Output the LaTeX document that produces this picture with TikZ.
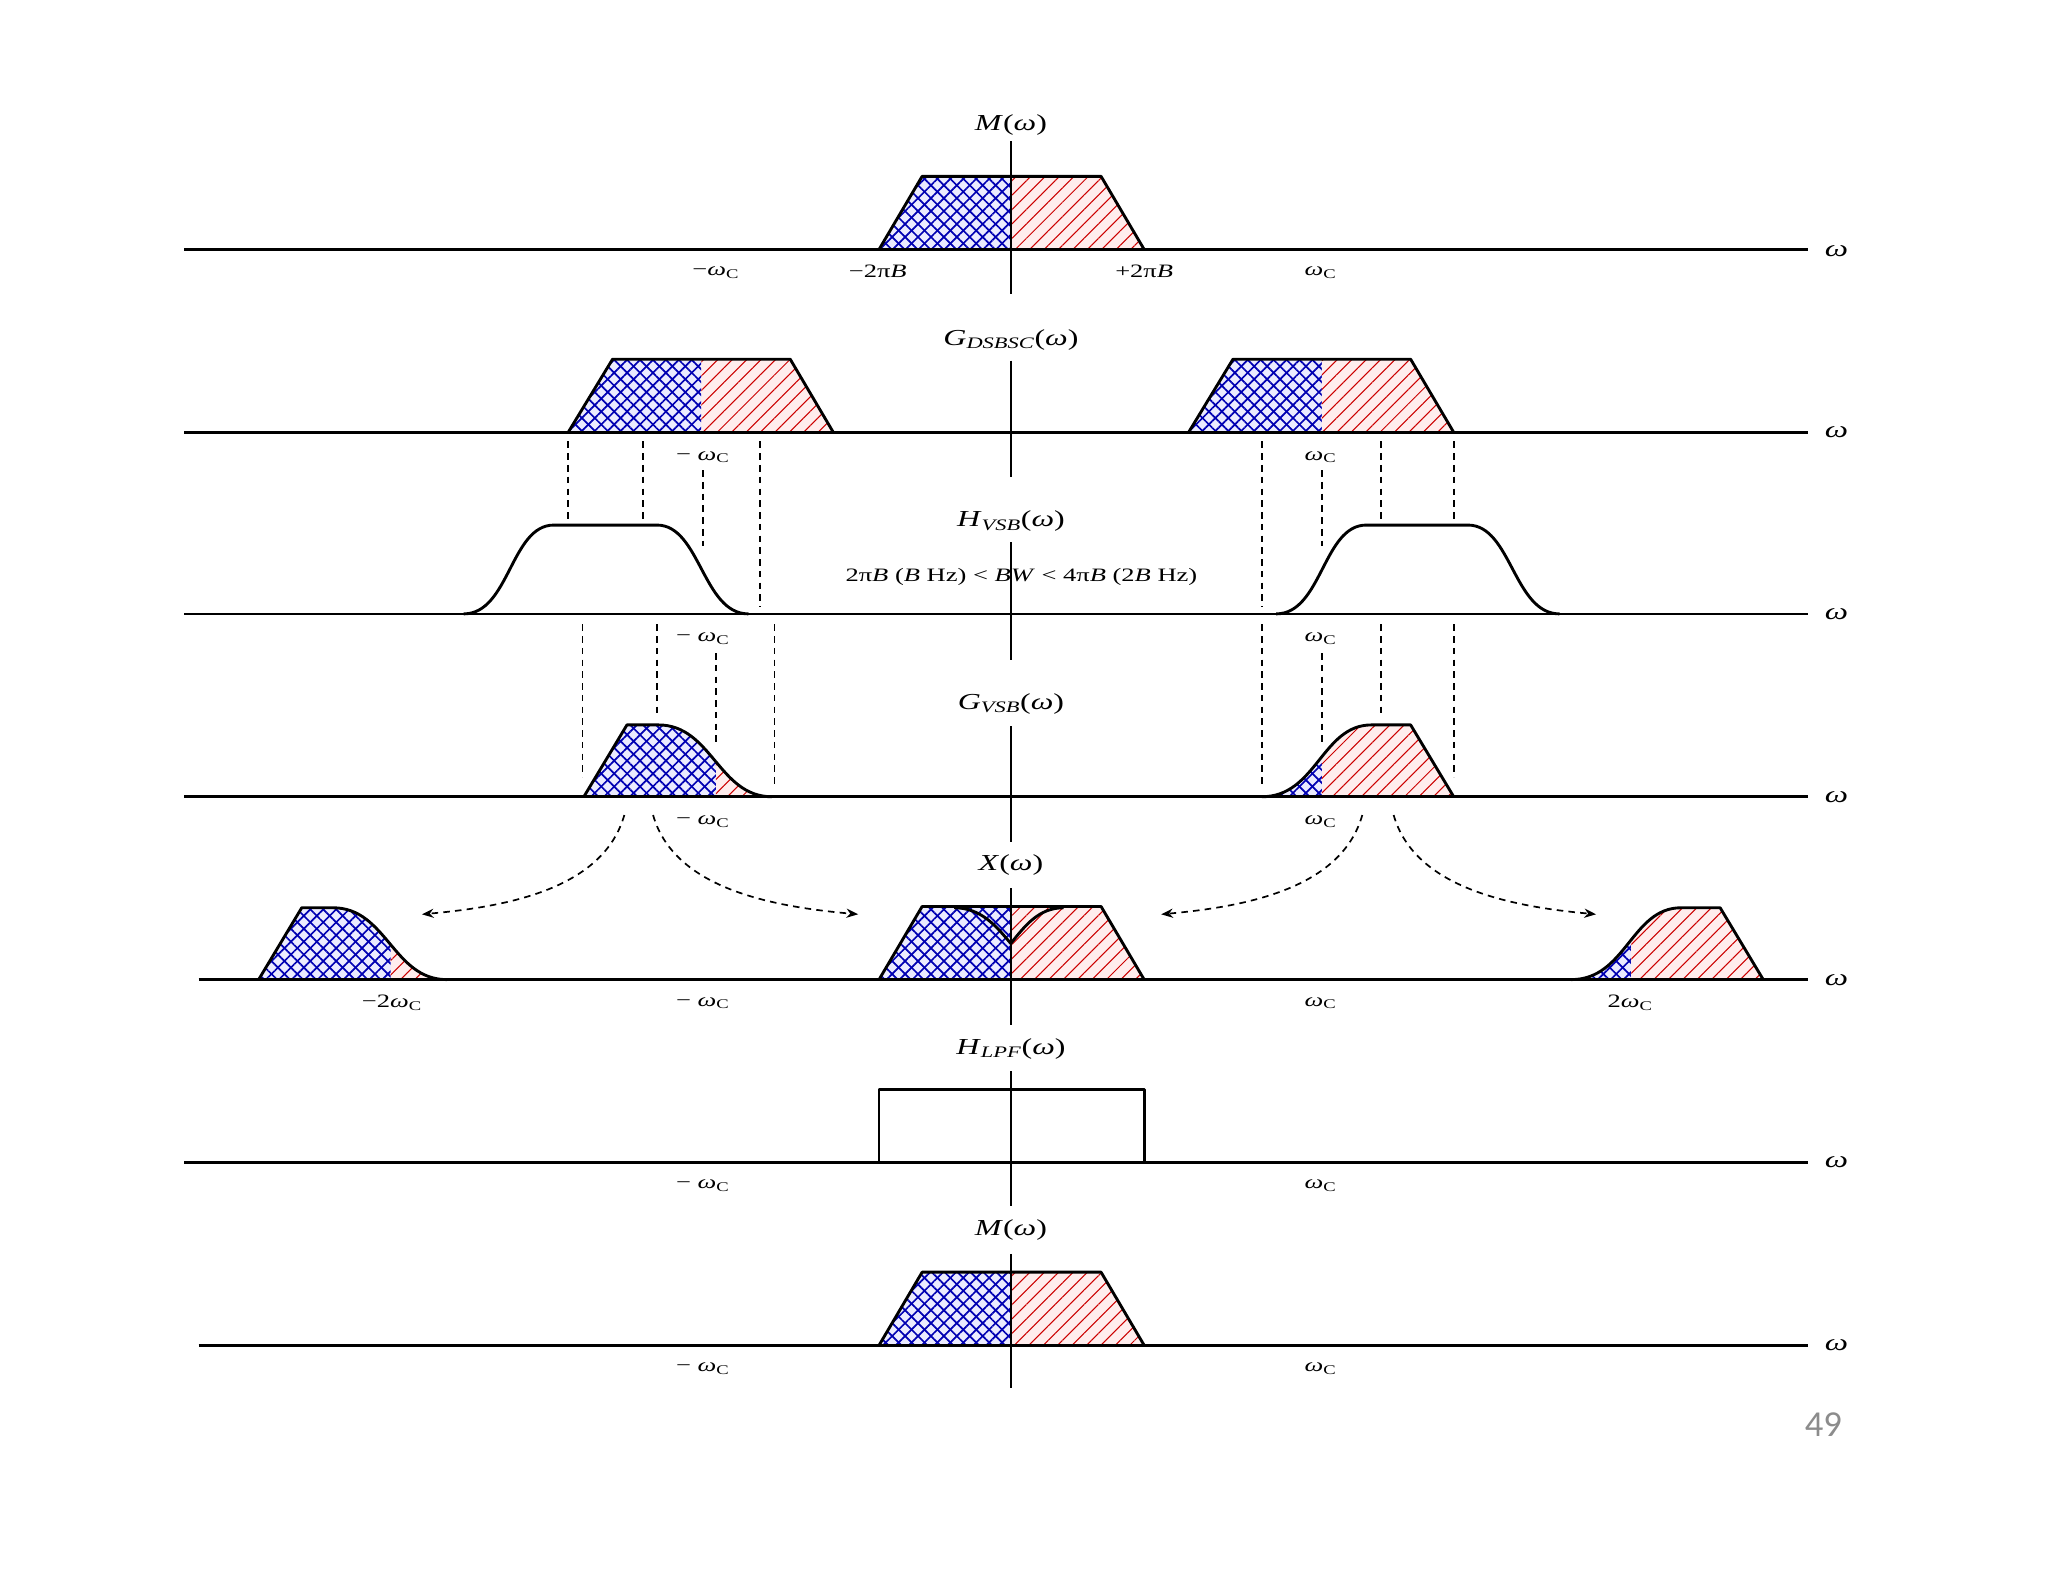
\documentclass[tikz,border=0pt]{standalone}
\usepackage{fontspec}
\setmainfont{Liberation Serif}[FakeStretch=1.4]
\newfontfamily\pgnumfont{Carlito}
\usetikzlibrary{patterns.meta,arrows.meta}
\newcommand{\om}{\textit{ω}}
\newcommand{\wC}{\textit{ω}\textsubscript{C}}
\begin{document}
\begin{tikzpicture}[x=1pt,y=-1pt,
  axisline/.style={line width=2pt},
  outline/.style={line width=2.2pt,line join=round},
  guide/.style={dash pattern=on 5pt off 4pt,line width=1.4pt},
  flab/.style={font=\fontsize{17.5}{20}\selectfont,inner sep=0pt},
  tlab/.style={font=\fontsize{14.5}{17}\selectfont,inner sep=0pt},
  wlab/.style={font=\fontsize{18}{20}\selectfont,inner sep=0pt},
  arr/.style={dash pattern=on 5pt off 4pt,line width=1.3pt,-{Stealth[length=9pt,width=7pt]}},
  bluehatch/.style={fill=blue!8,
    postaction={pattern={Lines[angle=45,distance=7pt,line width=1.3pt]},pattern color=blue!70!black},
    postaction={pattern={Lines[angle=-45,distance=7pt,line width=1.3pt]},pattern color=blue!70!black}},
  redhatch/.style={fill=red!7,
    postaction={pattern={Lines[angle=45,distance=7.8pt,line width=0.8pt]},pattern color=red!80!black}}
]
\useasboundingbox (0,0) rectangle (1568,1211);
\fill[white] (0,0) rectangle (1568,1211);

% ===== Panel 1: M(omega) =====
\path[bluehatch] (673,191) -- (706,135) -- (774,135) -- (774,191) -- cycle;
\path[redhatch] (774,191) -- (774,135) -- (843,135) -- (876,191) -- cycle;
\draw[outline] (673,191) -- (706,135) -- (843,135) -- (876,191);
\draw[axisline] (141,191) -- (1384,191);
\draw[axisline] (774,108) -- (774,225);
\node[flab] (m1) at (774,96) {\textit{M}(\om)};
\node[wlab] (w1) at (1406,192) {\om};
\node[tlab] (p1a) at (548,209) {−\wC};
\node[tlab] (p1b) at (672,208) {−2π\textit{B}};
\node[tlab] (p1c) at (876,208) {+2π\textit{B}};
\node[tlab] (p1d) at (1011,209) {\wC};

% ===== Panel 2: G_DSBSC =====
\path[bluehatch] (435,331) -- (469,275) -- (537,275) -- (537,331) -- cycle;
\path[redhatch] (537,331) -- (537,275) -- (605,275) -- (638,331) -- cycle;
\draw[outline] (435,331) -- (469,275) -- (605,275) -- (638,331);
\path[bluehatch] (910,331) -- (944,275) -- (1012,275) -- (1012,331) -- cycle;
\path[redhatch] (1012,331) -- (1012,275) -- (1080,275) -- (1113,331) -- cycle;
\draw[outline] (910,331) -- (944,275) -- (1080,275) -- (1113,331);
\draw[axisline] (141,331) -- (1384,331);
\draw[axisline] (774,276) -- (774,365);
\node[flab] (g1) at (774,260) {\textit{G}\textsubscript{\textit{DSBSC}}(\om)};
\node[wlab] (w2) at (1406,331) {\om};
\node[tlab] (p2a) at (538,350) {− \wC};
\node[tlab] (p2b) at (1011,350) {\wC};

% guides between panel 2 and 3
\draw[guide] (435,338) -- (435,398);
\draw[guide] (492,338) -- (492,398);
\draw[guide] (538,360) -- (538,418);
\draw[guide] (582,338) -- (582,465);
\draw[guide] (966,338) -- (966,465);
\draw[guide] (1012,360) -- (1012,418);
\draw[guide] (1057,338) -- (1057,398);
\draw[guide] (1113,338) -- (1113,398);

% ===== Panel 3: H_VSB =====
\draw[outline] (355,470) .. controls (390,470) and (391,402) .. (424,402) -- (503,402)
  .. controls (536,402) and (538,470) .. (573,470);
\draw[outline] (977,470) .. controls (1012,470) and (1013,402) .. (1046,402) -- (1124,402)
  .. controls (1157,402) and (1159,470) .. (1194,470);
\draw[axisline] (141,470) -- (1384,470);
\node[flab] (h1) at (774,399) {\textit{H}\textsubscript{\textit{VSB}}(\om)};
\node[tlab] (bw) at (782,442) {2π\textit{B} (\textit{B} Hz) < \textit{BW} < 4π\textit{B} (2\textit{B} Hz)};
\draw[axisline] (774,415) -- (774,505);
\node[wlab] (w3) at (1406,470) {\om};
\node[tlab] (p3a) at (538,489) {− \wC};
\node[tlab] (p3b) at (1011,489) {\wC};

% guides between panel 3 and 4
\draw[guide] (446,478) -- (446,595);
\draw[guide] (503,478) -- (503,548);
\draw[guide] (548,500) -- (548,570);
\draw[guide] (593,478) -- (593,603);
\draw[guide] (966,478) -- (966,603);
\draw[guide] (1012,500) -- (1012,570);
\draw[guide] (1057,478) -- (1057,548);
\draw[guide] (1113,478) -- (1113,595);

% ===== Panel 4: G_VSB =====
\begin{scope}
  \clip (447,610) -- (480,555) -- (504,555) .. controls (545,555) and (550,610) .. (591,610) -- cycle;
  \path[bluehatch] (440,545) rectangle (548,612);
  \path[redhatch] (548,545) rectangle (600,612);
\end{scope}
\draw[outline] (447,610) -- (480,555) -- (504,555) .. controls (545,555) and (550,610) .. (591,610);
\begin{scope}
  \clip (966,610) .. controls (1008,610) and (1012,555) .. (1050,555) -- (1080,555) -- (1113,610) -- cycle;
  \path[bluehatch] (960,545) rectangle (1012,612);
  \path[redhatch] (1012,545) rectangle (1120,612);
\end{scope}
\draw[outline] (966,610) .. controls (1008,610) and (1012,555) .. (1050,555) -- (1080,555) -- (1113,610);
\draw[axisline] (141,610) -- (1384,610);
\draw[axisline] (774,556) -- (774,645);
\node[flab] (g2) at (774,539) {\textit{G}\textsubscript{\textit{VSB}}(\om)};
\node[wlab] (w4) at (1406,610) {\om};
\node[tlab] (p4a) at (538,629) {− \wC};
\node[tlab] (p4b) at (1011,629) {\wC};

% shifting arrows
\coordinate (s1) at (478,624);
\coordinate (e1) at (323,700);
\coordinate (s2) at (500,624);
\coordinate (e2) at (657,700);
\coordinate (s3) at (1043,624);
\coordinate (e3) at (889,700);
\coordinate (s4) at (1067,624);
\coordinate (e4) at (1222,700);
\draw[arr] (s1) .. controls (462,680) and (390,694) .. (e1);
\draw[arr] (s2) .. controls (516,680) and (590,694) .. (e2);
\draw[arr] (s3) .. controls (1027,680) and (955,694) .. (e3);
\draw[arr] (s4) .. controls (1083,680) and (1157,694) .. (e4);

% ===== Panel 5: X(omega) =====
\begin{scope}[shift={(-249,140)}]
  \begin{scope}
    \clip (447,610) -- (480,555) -- (504,555) .. controls (545,555) and (550,610) .. (591,610) -- cycle;
    \path[bluehatch] (440,545) rectangle (548,612);
    \path[redhatch] (548,545) rectangle (600,612);
  \end{scope}
  \draw[outline] (447,610) -- (480,555) -- (504,555) .. controls (545,555) and (550,610) .. (591,610);
\end{scope}
\begin{scope}[shift={(237,140)}]
  \begin{scope}
    \clip (966,610) .. controls (1008,610) and (1012,555) .. (1050,555) -- (1080,555) -- (1113,610) -- cycle;
    \path[bluehatch] (960,545) rectangle (1012,612);
    \path[redhatch] (1012,545) rectangle (1120,612);
  \end{scope}
  \draw[outline] (966,610) .. controls (1008,610) and (1012,555) .. (1050,555) -- (1080,555) -- (1113,610);
\end{scope}
\path[bluehatch] (673,750) -- (706,694) -- (774,694) -- (774,750) -- cycle;
\path[redhatch] (774,750) -- (774,694) -- (843,694) -- (876,750) -- cycle;
\draw[outline] (673,750) -- (706,694) -- (843,694) -- (876,750);
\begin{scope}
  \clip (673,690) rectangle (774,752);
  \draw[outline,shift={(226.5,140)}] (504,555) .. controls (545,555) and (550,610) .. (591,610);
\end{scope}
\begin{scope}
  \clip (774,690) rectangle (876,752);
  \draw[outline,shift={(-235.75,140)}] (966,610) .. controls (1008,610) and (1012,555) .. (1050,555);
\end{scope}
\draw[axisline] (152,750) -- (1384,750);
\draw[axisline] (774,680) -- (774,785);
\node[flab] (x1) at (774,662) {\textit{X}(\om)};
\node[wlab] (w5) at (1406,750) {\om};
\node[tlab] (p5a) at (300,768) {−2\wC};
\node[tlab] (p5b) at (538,768) {− \wC};
\node[tlab] (p5c) at (1011,768) {\wC};
\node[tlab] (p5d) at (1248,768) {2\wC};

% ===== Panel 6: H_LPF =====
\draw[outline] (673,890) -- (673,834) -- (876,834) -- (876,890);
\draw[axisline] (141,890) -- (1384,890);
\draw[axisline] (774,820) -- (774,923);
\node[flab] (h2) at (774,803) {\textit{H}\textsubscript{\textit{LPF}}(\om)};
\node[wlab] (w6) at (1406,890) {\om};
\node[tlab] (p6a) at (538,908) {− \wC};
\node[tlab] (p6b) at (1011,908) {\wC};

% ===== Panel 7: M(omega) =====
\path[bluehatch] (673,1030) -- (706,974) -- (774,974) -- (774,1030) -- cycle;
\path[redhatch] (774,1030) -- (774,974) -- (843,974) -- (876,1030) -- cycle;
\draw[outline] (673,1030) -- (706,974) -- (843,974) -- (876,1030);
\draw[axisline] (152,1030) -- (1384,1030);
\draw[axisline] (774,960) -- (774,1063);
\node[flab] (m2) at (774,942) {\textit{M}(\om)};
\node[wlab] (w7) at (1406,1030) {\om};
\node[tlab] (p7a) at (538,1048) {− \wC};
\node[tlab] (p7b) at (1011,1048) {\wC};

% page number
\node[font=\pgnumfont\fontsize{28}{30}\selectfont,text=black!45,inner sep=0pt] (pg) at (1396,1091) {49};
\end{tikzpicture}
\end{document}
